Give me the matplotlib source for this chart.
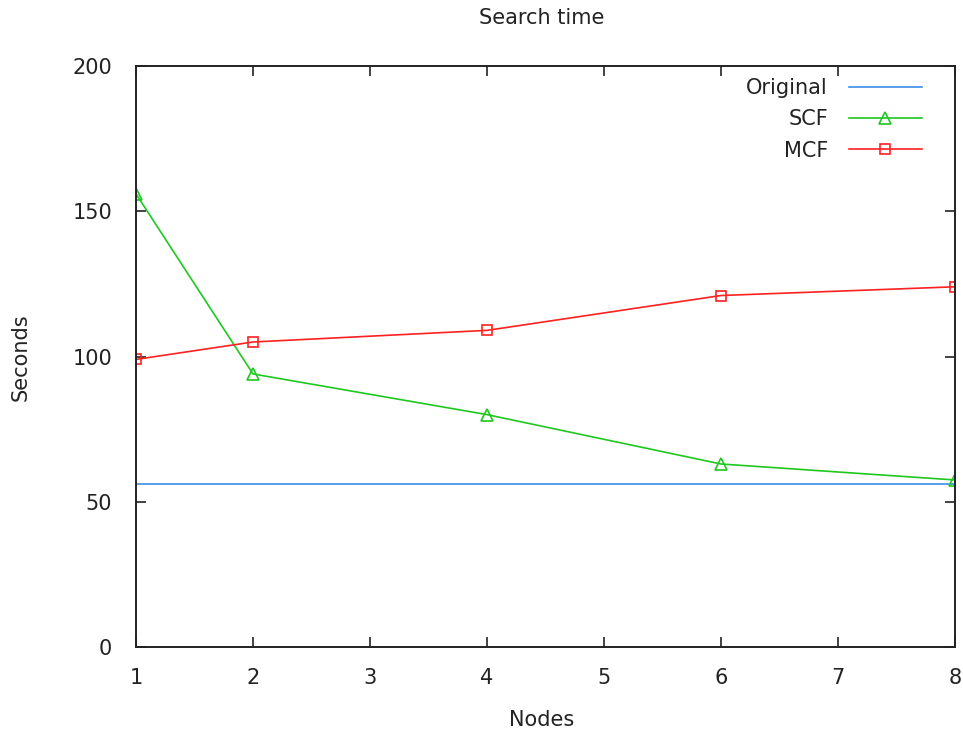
import matplotlib
matplotlib.use("Agg")
import matplotlib.pyplot as plt

nodes = [1, 2, 4, 6, 8]
original_x = [1, 8]
original = [56, 56]
scf = [156, 94, 80, 63, 57.5]
mcf = [99, 105, 109, 121, 124]
xticks = [1, 2, 3, 4, 5, 6, 7, 8]
yticks = [0, 50, 100, 150, 200]

plt.rcParams['font.family'] = ['DejaVu Sans']
fig = plt.figure(figsize=(9.63, 7.36), dpi=100)
ax = fig.add_axes([0.1412, 0.1209, 0.8505, 0.7894])

ax.plot(original_x, original, color='#3c8ce6', lw=1.2, label='Original')
ax.plot(nodes, scf, color='#1ec81e', lw=1.2, marker='^', ms=8, mfc='none', mec='#1ec81e', mew=1.2, label='SCF')
ax.plot(nodes, mcf, color='#ff2020', lw=1.2, marker='s', ms=7.5, mfc='none', mec='#ff2020', mew=1.2, label='MCF')

ax.set_xlim(1, 8)
ax.set_ylim(0, 200)
ax.set_xticks(xticks)
ax.set_yticks(yticks)
ax.tick_params(direction='in', top=True, right=True, length=7, width=1.2, labelsize=15, colors='#222222')
ax.tick_params(axis='x', pad=15)
ax.tick_params(axis='y', pad=17)
for s in ax.spines.values():
    s.set_linewidth(1.4)
    s.set_color('#222222')

fs = 15
fig.text(0.5625, 0.022, 'Nodes', ha='center', va='center', fontsize=fs, color='#222222')
fig.text(0.021, 0.515, 'Seconds', ha='center', va='center', rotation=90, fontsize=fs, color='#222222')
fig.text(0.562, 0.975, 'Search time', ha='center', va='center', fontsize=fs, color='#222222')

leg = ax.legend(loc='upper right', bbox_to_anchor=(0.9695, 0.994), frameon=False, markerfirst=False,
                fontsize=fs, handlelength=3.5, handletextpad=1.0, labelspacing=0.55,
                borderaxespad=0.0)
for t in leg.get_texts():
    t.set_color('#222222')

fig.savefig('out.png', dpi=100)
